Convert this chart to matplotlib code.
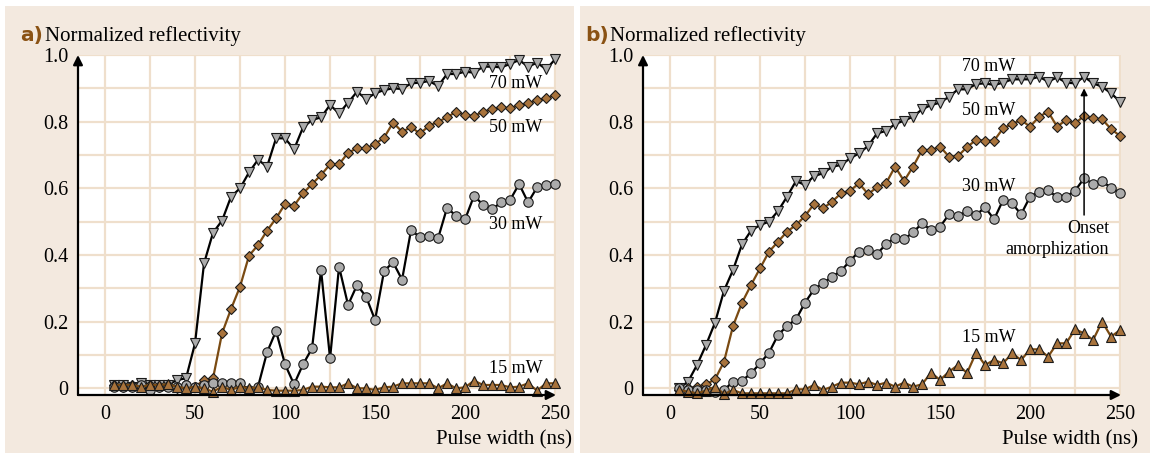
import matplotlib
matplotlib.use("Agg")
import matplotlib.pyplot as plt
from matplotlib.patches import Rectangle
from matplotlib.ticker import MultipleLocator

# ---------------- data ----------------
pulse_ns = [5, 10, 15, 20, 25, 30, 35, 40, 45, 50,
            55, 60, 65, 70, 75, 80, 85, 90, 95, 100,
            105, 110, 115, 120, 125, 130, 135, 140, 145, 150,
            155, 160, 165, 170, 175, 180, 185, 190, 195, 200,
            205, 210, 215, 220, 225, 230, 235, 240, 245, 250]

# panel a
a_70mw = [0.010, 0.010, 0.005, 0.015, 0.010, 0.010, 0.010, 0.025, 0.030, 0.135,
          0.375, 0.467, 0.503, 0.575, 0.600, 0.648, 0.686, 0.665, 0.750, 0.750,
          0.717, 0.783, 0.805, 0.813, 0.850, 0.825, 0.857, 0.890, 0.868, 0.885,
          0.895, 0.900, 0.898, 0.915, 0.917, 0.922, 0.907, 0.943, 0.943, 0.950,
          0.947, 0.965, 0.965, 0.963, 0.973, 0.985, 0.965, 0.977, 0.957, 0.987]
a_50mw = [0.010, 0.005, 0.010, 0.005, 0.010, 0.005, 0.010, 0.000, 0.010, 0.005,
          0.025, 0.030, 0.165, 0.238, 0.305, 0.398, 0.430, 0.473, 0.510, 0.553,
          0.548, 0.585, 0.613, 0.640, 0.672, 0.672, 0.707, 0.720, 0.720, 0.733,
          0.752, 0.797, 0.770, 0.783, 0.765, 0.787, 0.800, 0.813, 0.830, 0.820,
          0.817, 0.830, 0.837, 0.843, 0.840, 0.850, 0.855, 0.865, 0.870, 0.880]
a_30mw = [0.005, 0.005, 0.005, 0.010, -0.005, 0.005, 0.005, 0.005, 0.010, 0.005,
          0.010, 0.015, 0.015, 0.015, 0.015, -0.005, 0.005, 0.108, 0.172, 0.072,
          0.012, 0.072, 0.120, 0.355, 0.090, 0.365, 0.250, 0.310, 0.275, 0.205,
          0.352, 0.378, 0.326, 0.475, 0.453, 0.457, 0.450, 0.542, 0.517, 0.507,
          0.578, 0.550, 0.537, 0.558, 0.565, 0.613, 0.558, 0.603, 0.610, 0.612]
a_15mw = [0.010, 0.010, 0.010, 0.005, 0.010, 0.010, 0.012, 0.005, 0.000, 0.005,
          0.000, -0.010, 0.005, -0.005, 0.005, 0.000, 0.003, -0.005, -0.007, -0.007,
          -0.007, -0.005, 0.005, 0.005, 0.003, 0.003, 0.015, 0.000, 0.000, -0.005,
          0.003, 0.005, 0.015, 0.015, 0.015, 0.015, 0.000, 0.015, 0.000, 0.003,
          0.023, 0.010, 0.010, 0.010, 0.003, 0.005, 0.015, -0.007, 0.015, 0.015]

# panel b
b_70mw = [0.000, 0.020, 0.070, 0.130, 0.197, 0.293, 0.355, 0.432, 0.473, 0.490,
          0.500, 0.532, 0.575, 0.622, 0.610, 0.637, 0.645, 0.665, 0.670, 0.690,
          0.705, 0.727, 0.765, 0.772, 0.793, 0.803, 0.815, 0.837, 0.850, 0.857,
          0.875, 0.897, 0.897, 0.913, 0.915, 0.910, 0.917, 0.927, 0.927, 0.927,
          0.935, 0.920, 0.933, 0.917, 0.915, 0.935, 0.915, 0.905, 0.885, 0.860]
b_50mw = [-0.005, 0.000, 0.005, 0.012, 0.027, 0.080, 0.187, 0.257, 0.310, 0.360,
          0.410, 0.440, 0.470, 0.490, 0.517, 0.553, 0.540, 0.560, 0.585, 0.593,
          0.615, 0.583, 0.603, 0.615, 0.665, 0.622, 0.665, 0.715, 0.715, 0.725,
          0.695, 0.697, 0.724, 0.745, 0.743, 0.743, 0.780, 0.793, 0.805, 0.785,
          0.815, 0.830, 0.785, 0.805, 0.795, 0.817, 0.810, 0.807, 0.778, 0.757]
b_30mw = [0.000, -0.005, -0.005, -0.005, -0.010, -0.005, 0.020, 0.023, 0.045, 0.075,
          0.107, 0.160, 0.187, 0.207, 0.257, 0.297, 0.315, 0.335, 0.352, 0.383,
          0.410, 0.415, 0.403, 0.433, 0.452, 0.447, 0.468, 0.495, 0.475, 0.485,
          0.522, 0.517, 0.532, 0.520, 0.543, 0.507, 0.565, 0.555, 0.522, 0.575,
          0.590, 0.595, 0.573, 0.575, 0.593, 0.630, 0.613, 0.623, 0.600, 0.587]
b_15mw = [-0.005, -0.010, -0.015, -0.007, 0.005, -0.017, -0.005, -0.015, -0.015, -0.015,
          -0.015, -0.015, -0.015, -0.003, -0.003, 0.010, -0.005, 0.005, 0.017, 0.017,
          0.012, 0.020, 0.010, 0.017, 0.005, 0.017, 0.005, 0.012, 0.047, 0.025,
          0.050, 0.070, 0.046, 0.107, 0.070, 0.085, 0.075, 0.105, 0.085, 0.117,
          0.117, 0.095, 0.135, 0.135, 0.177, 0.165, 0.145, 0.200, 0.155, 0.175]

power_labels = ["70 mW", "50 mW", "30 mW", "15 mW"]
x_ticks = [0, 50, 100, 150, 200, 250]
y_ticks = [0, 0.2, 0.4, 0.6, 0.8, 1.0]
y_tick_labels = ["0", "0.2", "0.4", "0.6", "0.8", "1.0"]

# ---------------- style ----------------
SERIF = ["Liberation Serif", "DejaVu Serif"]
BG_TAN = "#F3E9DF"
GRID = "#EFDFCC"
BROWN_LINE = "#7A4A12"
BROWN_FILL = "#A8733C"
GRAY_FILL = "#ABABAB"
LABEL_BROWN = "#8A5214"

W, H = 1154, 457
fig = plt.figure(figsize=(W / 100, H / 100), dpi=100)
fig.patch.set_facecolor("white")


def px_rect(x0, y0, x1, y1):
    return [x0 / W, 1 - y1 / H, (x1 - x0) / W, (y1 - y0) / H]


for x0, x1 in [(5, 574), (580, 1150)]:
    l, b, w, h = px_rect(x0, 6, x1, 453)
    fig.add_artist(Rectangle((l, b), w, h, transform=fig.transFigure,
                             facecolor=BG_TAN, edgecolor="none", zorder=0))

styles = [
    dict(marker="v", color="black", mfc=GRAY_FILL, ms=7.0),
    dict(marker="D", color=BROWN_LINE, mfc=BROWN_FILL, ms=5.6),
    dict(marker="o", color="black", mfc=GRAY_FILL, ms=6.8),
    dict(marker="^", color=BROWN_LINE, mfc=BROWN_FILL, ms=7.0),
]


def draw_panel(ax, series, label_pos, tag, xlab_right):
    ax.set_facecolor("white")
    ax.set_xlim(-15, 250.5)
    ax.set_ylim(-0.02, 1.0)
    ax.xaxis.set_minor_locator(MultipleLocator(25))
    ax.yaxis.set_minor_locator(MultipleLocator(0.1))
    ax.set_xticks(x_ticks)
    ax.set_yticks(y_ticks)
    ax.set_yticklabels(y_tick_labels)
    ax.grid(True, which="both", color=GRID, lw=1.6, zorder=0)
    ax.set_axisbelow(True)
    ax.tick_params(which="both", length=0, labelsize=14.5)
    ax.tick_params(axis="x", pad=7)
    ax.tick_params(axis="y", pad=7)
    for lab in ax.get_xticklabels() + ax.get_yticklabels():
        lab.set_family(SERIF)
    for s in ax.spines.values():
        s.set_visible(False)

    for vals, st in zip(series, styles):
        ax.plot(pulse_ns, vals, color=st["color"], lw=1.6, marker=st["marker"],
                ms=st["ms"], mfc=st["mfc"], mec="#1a1a1a", mew=0.8, zorder=3,
                clip_on=False)

    for txt, (x, y) in zip(power_labels, label_pos):
        ax.text(x, y, txt, ha="center", va="center", fontsize=13,
                family=SERIF, zorder=5)

    # axis arrows
    for tip in [(1.0, 0), (0, 1.0)]:
        ax.annotate("", xy=tip, xytext=(0, 0), xycoords="axes fraction",
                    arrowprops=dict(arrowstyle="-|>", lw=1.6, color="black",
                                    mutation_scale=14, shrinkA=0, shrinkB=0),
                    annotation_clip=False)

    # panel heading and x-axis title
    left_px = ax.get_position().x0 * W
    fig.text((left_px - 58) / W, 1 - 36 / H, tag, fontsize=14.5, weight="bold",
             color=LABEL_BROWN, family=["Liberation Sans Narrow", "DejaVu Sans"],
             ha="left", va="center")
    fig.text((left_px - 33) / W, 1 - 36 / H, "Normalized reflectivity",
             fontsize=15, family=SERIF, ha="left", va="center")
    fig.text(xlab_right / W, 1 - 440 / H, "Pulse width (ns)", fontsize=15,
             family=SERIF, ha="right", va="center")


ax_a = fig.add_axes(px_rect(78, 55, 556, 395))
ax_b = fig.add_axes(px_rect(643, 55, 1121, 395))

draw_panel(ax_a, [a_70mw, a_50mw, a_30mw, a_15mw],
           [(228, 0.915), (228, 0.783), (228, 0.493), (228, 0.06)], "a)", 572)
draw_panel(ax_b, [b_70mw, b_50mw, b_30mw, b_15mw],
           [(177, 0.965), (177, 0.835), (177, 0.607), (177, 0.153)], "b)", 1138)

# onset of amorphization marker in panel b
ax_b.annotate("", xy=(230, 0.90), xytext=(230, 0.52),
              arrowprops=dict(arrowstyle="-|>", lw=1.1, color="black",
                              mutation_scale=10, shrinkA=0, shrinkB=0), zorder=4)
ax_b.text(244, 0.448, "Onset\namorphization", ha="right", va="center",
          fontsize=13, family=SERIF, linespacing=1.25, zorder=5)

fig.savefig("out.png", dpi=100, facecolor=fig.get_facecolor())
